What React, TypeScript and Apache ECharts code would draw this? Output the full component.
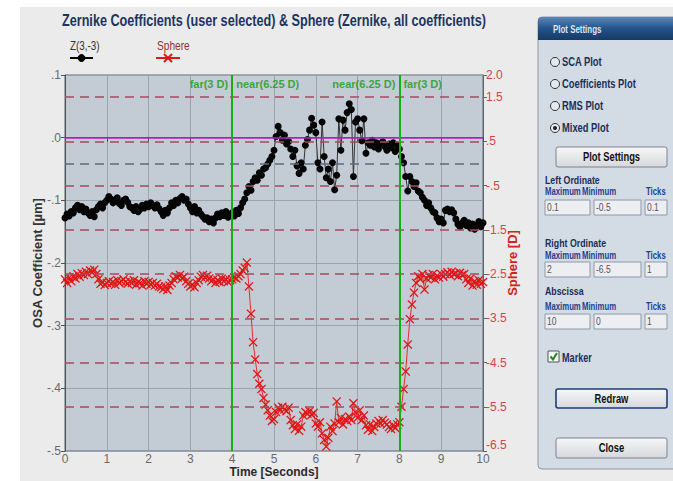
import React, { useEffect, useRef } from "react";
import * as echarts from "echarts";

// Sampling step of both recordings, in seconds
const DT = 0.05;

// Z(3,-3) OSA coefficient [µm], one value per DT from t = 0 to t = 10 s
const zernikeZ3m3 = [
  -0.128, -0.122, -0.125, -0.118, -0.12,
  -0.112, -0.108, -0.115, -0.11, -0.118, -0.114,
  -0.12, -0.124, -0.118, -0.126, -0.115,
  -0.11, -0.106, -0.112, -0.104, -0.1,
  -0.094, -0.098, -0.104, -0.1, -0.096, -0.105, -0.108, -0.1, -0.098, -0.103, -0.11,
  -0.112, -0.116, -0.11, -0.118, -0.114, -0.108, -0.112, -0.106,
  -0.11, -0.104, -0.108, -0.112, -0.107, -0.113,
  -0.118, -0.124, -0.116, -0.12, -0.112, -0.104,
  -0.108, -0.1, -0.104, -0.097, -0.094, -0.1, -0.098, -0.106,
  -0.112, -0.118, -0.11, -0.12, -0.116, -0.122,
  -0.126, -0.13, -0.128, -0.134, -0.13, -0.136, -0.128,
  -0.122, -0.126, -0.12, -0.124, -0.118, -0.127, -0.124,
  -0.12, -0.125, -0.116, -0.121, -0.112, -0.104,
  -0.098, -0.088, -0.078, -0.084, -0.07, -0.064,
  -0.068, -0.056, -0.06, -0.05, -0.048, -0.042, -0.036, -0.03,
  -0.02, 0.002, 0.018, 0.008, -0.004,
  0.004, -0.01, -0.006, -0.018, -0.03, -0.02,
  -0.045, -0.057, -0.04, -0.05, -0.012, -0.003,
  0.012, 0.031, 0.02, 0.008,
  -0.04, -0.05, 0.025, -0.03, -0.064,
  -0.05, -0.07, -0.04, -0.083, -0.06,
  0.03, -0.02, 0.028, 0.012,
  0.04, 0.054, 0.045, -0.062, 0.025,
  0.03, 0.012, -0.005, 0.03,
  -0.025, -0.008, -0.012, -0.004, -0.015, -0.008, -0.018, -0.01, -0.006, -0.014, -0.02, -0.01, -0.016, -0.008, -0.022, -0.012, -0.018,
  -0.03, -0.04, -0.062, -0.085,
  -0.062, -0.07, -0.078, -0.072, -0.085, -0.088,
  -0.095, -0.1, -0.108, -0.104, -0.112, -0.118, -0.12,
  -0.128, -0.134, -0.13, -0.136,
  -0.116, -0.114, -0.118, -0.115, -0.12,
  -0.13, -0.138, -0.142, -0.136,
  -0.132, -0.14, -0.136, -0.144, -0.138, -0.146, -0.14, -0.134, -0.142, -0.136,
];

// Sphere [D], one value per DT from t = 0 to t = 10 s
const sphereD = [
  -2.62, -2.7, -2.58, -2.66, -2.55, -2.6,
  -2.5, -2.56, -2.48, -2.52, -2.45, -2.5, -2.42, -2.46, -2.4, -2.5,
  -2.62, -2.72, -2.68, -2.75, -2.7, -2.66, -2.72, -2.68, -2.74, -2.64, -2.7, -2.66, -2.62, -2.68,
  -2.72, -2.66, -2.7, -2.64, -2.74, -2.68, -2.7, -2.76, -2.66, -2.72, -2.68, -2.74, -2.7, -2.76, -2.72, -2.78,
  -2.8, -2.84, -2.78, -2.86, -2.76, -2.7,
  -2.62, -2.55, -2.58, -2.52, -2.6, -2.56, -2.66,
  -2.72, -2.78, -2.74, -2.8, -2.7, -2.64,
  -2.56, -2.52, -2.58, -2.54, -2.6,
  -2.66, -2.62, -2.7, -2.64, -2.68, -2.6, -2.66, -2.62, -2.68, -2.64,
  -2.62, -2.58, -2.6, -2.55, -2.5,
  -2.42, -2.36, -2.24,
  -2.78, -3.4, -4.04, -4.43, -4.76, -4.98, -5.1, -5.3, -5.45, -5.58, -5.7, -5.82, -5.78,
  -5.62, -5.52, -5.58, -5.5, -5.56, -5.6, -5.52,
  -5.8, -5.92, -6.0, -5.9, -6.04, -5.95,
  -5.7, -5.62, -5.66, -5.6, -5.68, -5.64,
  -5.88, -5.95, -5.85,
  -6.1, -6.25, -6.4, -6.2,
  -5.95, -6.05, -5.88,
  -5.38,
  -5.85, -5.75, -5.9, -5.78, -5.82, -5.72, -5.8,
  -5.42,
  -5.62, -5.75, -5.58, -5.8, -5.7,
  -5.92, -6.02, -5.9, -6.05, -5.96, -5.88,
  -5.82, -5.88, -5.8, -5.86, -5.9,
  -5.96, -6.0, -5.92, -5.98, -5.9, -5.85,
  -5.5, -5.1, -4.7, -4.09, -3.52, -3.19, -2.92, -2.7,
  -2.55, -2.62, -2.5, -2.85,
  -2.6, -2.52, -2.58, -2.5, -2.62, -2.54, -2.58, -2.5, -2.56,
  -2.5, -2.46, -2.52, -2.45, -2.5, -2.48, -2.55, -2.47, -2.52, -2.5,
  -2.62, -2.7, -2.6, -2.76, -2.66, -2.74, -2.64, -2.72, -2.68,
];

// Axis ticks and their printed labels
const leftTickValues = [0.1, 0, -0.1, -0.2, -0.3, -0.4, -0.5];
const leftTickLabels = [".1", ".0", "-.1", "-.2", "-.3", "-.4", "-.5"];
const rightTickValues = [-6.5, -5.5, -4.5, -3.5, -2.5, -1.5, -0.5, 0.5, 1.5, 2];
const rightTickLabels = ["-6.5", "-5.5", "-4.5", "-3.5", "-2.5", "-1.5", "-.5", ".5", "1.5", "2.0"];
// Dashed guide levels on the sphere scale
const sphereGuides = [1.5, 0.5, -0.5, -1.5, -2.5, -3.5, -4.5, -5.5];

// Fixation target switches
const phaseSwitches = [
  { t: 4, before: "far(3 D)", after: "near(6.25 D)" },
  { t: 8, before: "near(6.25 D)", after: "far(3 D)" },
];

const chartTitle = "Zernike Coefficients (user selected) & Sphere (Zernike, all coefficients)";

// Plot settings panel contents
const plotModes = ["SCA Plot", "Coefficients Plot", "RMS Plot", "Mixed Plot"];
const selectedMode = "Mixed Plot";
const fieldHeaders = ["Maximum", "Minimum", "Ticks"];
const ordinateSettings = [
  { title: "Left Ordinate", values: ["0.1", "-0.5", "0.1"] },
  { title: "Right Ordinate", values: ["2", "-6.5", "1"] },
  { title: "Abscissa", values: ["10", "0", "1"] },
];

const FONT = "'Liberation Sans', Arial, sans-serif";
const NAVY = "#1b2f57";
const BLUE_HDR = "#1f3f8f";

const lookupLabel = (values: number[], labels: string[]) => (v: number) => {
  const i = values.findIndex((x) => Math.abs(x - v) < 1e-6);
  return i >= 0 ? labels[i] : "";
};

const crossPath =
  "path://M0,1 L1,0 L5,4 L9,0 L10,1 L6,5 L10,9 L9,10 L5,6 L1,10 L0,9 L4,5 Z";

// Horizontally condensed text element
function ntext(
  x: number,
  y: number,
  text: string,
  font: string,
  fill: string,
  sx = 0.8,
  align: string = "left"
) {
  return {
    type: "text",
    x,
    y,
    scaleX: sx,
    style: { text, fill, font, verticalAlign: "middle", align },
  };
}

function buildPanel(): any[] {
  const els: any[] = [];
  const px = 538;
  els.push({
    type: "rect",
    shape: { x: px, y: 17, width: 140, height: 452, r: 4 },
    style: { fill: "#d3dbe5", stroke: "#8a98ab", lineWidth: 1 },
  });
  els.push({
    type: "rect",
    shape: { x: px, y: 17, width: 140, height: 23, r: [4, 0, 0, 0] },
    style: {
      fill: new echarts.graphic.LinearGradient(0, 0, 0, 1, [
        { offset: 0, color: "#5b87b8" },
        { offset: 0.5, color: "#24528a" },
        { offset: 1, color: "#163a66" },
      ]),
    },
  });
  els.push(ntext(553, 29, "Plot Settings", `bold 11px ${FONT}`, "#dfe7f1", 0.72));

  plotModes.forEach((m, i) => {
    const cy = 62 + i * 22;
    els.push({
      type: "circle",
      shape: { cx: 555, cy, r: 4.5 },
      style: { fill: "#e4e9ef", stroke: "#333", lineWidth: 1 },
    });
    if (m === selectedMode) {
      els.push({ type: "circle", shape: { cx: 555, cy, r: 2 }, style: { fill: "#222" } });
    }
    els.push(ntext(562, cy, m, `bold 12px ${FONT}`, NAVY, 0.78));
  });

  const button = (y: number, h: number, label: string, strong: boolean) => {
    els.push({
      type: "rect",
      shape: { x: 556, y, width: 111, height: h, r: 2 },
      style: {
        fill: new echarts.graphic.LinearGradient(0, 0, 0, 1, [
          { offset: 0, color: "#f7f7f7" },
          { offset: 1, color: "#d6d8dc" },
        ]),
        stroke: strong ? "#1c3f7a" : "#7d838c",
        lineWidth: strong ? 1.6 : 1,
      },
    });
    els.push(ntext(611.5, y + h / 2, label, `bold 12px ${FONT}`, "#111", 0.78, "center"));
  };
  button(147, 20, "Plot Settings", false);

  const sectionY = [180, 243, 291];
  const headerY = [192, 256, 307];
  const boxY = [200, 262, 314];
  const colX = [545, 594, 645];
  const colW = [45, 47, 22];
  const hdrX = [545, 582, 646];
  ordinateSettings.forEach((s, k) => {
    els.push(ntext(545, sectionY[k], s.title, `bold 11px ${FONT}`, NAVY, 0.8));
    fieldHeaders.forEach((h, j) => {
      els.push(ntext(hdrX[j], headerY[k], h, `bold 10.5px ${FONT}`, BLUE_HDR, 0.74));
      els.push({
        type: "rect",
        shape: { x: colX[j], y: boxY[k], width: colW[j], height: 15 },
        style: { fill: "#eceef1", stroke: "#8e98a6", lineWidth: 1 },
      });
      els.push(ntext(colX[j] + 2, boxY[k] + 7.5, s.values[j], `10px ${FONT}`, "#555", 0.85));
    });
  });

  // Marker checkbox
  els.push({
    type: "rect",
    shape: { x: 548, y: 351, width: 11, height: 11 },
    style: { fill: "#f4f6f4", stroke: "#555", lineWidth: 1 },
  });
  els.push({
    type: "polyline",
    shape: { points: [[550.5, 356.5], [553, 359.5], [557, 353]] },
    style: { stroke: "#1c8a1c", lineWidth: 2, fill: null },
  });
  els.push(ntext(562, 357, "Marker", `bold 12px ${FONT}`, NAVY, 0.76));

  button(389, 19, "Redraw", true);
  button(438, 20, "Close", false);
  return els;
}

function buildHeader(): any[] {
  return [
    ntext(62, 20, chartTitle, `bold 16px ${FONT}`, "#1e355e", 0.79),
    ntext(70, 45, "Z(3,-3)", `13px ${FONT}`, "#333", 0.76),
    { type: "line", shape: { x1: 70, y1: 58, x2: 93, y2: 58 }, style: { stroke: "#000", lineWidth: 2 } },
    { type: "circle", z: 10, shape: { cx: 81.5, cy: 58, r: 3.5 }, style: { fill: "#000", stroke: "#000", lineWidth: 1 } },
    ntext(157, 45, "Sphere", `13px ${FONT}`, "#8c3434", 0.78),
    { type: "line", shape: { x1: 156, y1: 58, x2: 180, y2: 58 }, style: { stroke: "#e01818", lineWidth: 2 } },
    { type: "line", shape: { x1: 164, y1: 54, x2: 172, y2: 62 }, style: { stroke: "#e01818", lineWidth: 2 } },
    { type: "line", shape: { x1: 164, y1: 62, x2: 172, y2: 54 }, style: { stroke: "#e01818", lineWidth: 2 } },
  ];
}

export default function App() {
  const ref = useRef<HTMLDivElement>(null);

  useEffect(() => {
    if (!ref.current) return;
    const chart = echarts.init(ref.current, undefined, { renderer: "svg" });

    const zData = zernikeZ3m3.map((v, i) => [+(i * DT).toFixed(2), v]);
    const sData = sphereD.map((v, i) => [+(i * DT).toFixed(2), v]);

    const option: any = {
      animation: false,
      backgroundColor: "transparent",
      grid: {
        left: 65,
        right: 190,
        top: 75,
        bottom: 30,
        outerBoundsMode: "none",
        containLabel: false,
        show: true,
        backgroundColor: "#c3cbd5",
        borderColor: "#5e6670",
        borderWidth: 1,
      },
      xAxis: {
        type: "value",
        min: 0,
        max: 10,
        interval: 1,
        name: "Time [Seconds]",
        nameLocation: "middle",
        nameGap: 15,
        nameMoveOverlap: false,
        nameTextStyle: { color: "#2a2a2a", fontWeight: "bold", fontSize: 12, fontFamily: FONT },
        axisLine: { lineStyle: { color: "#4c525a" } },
        axisTick: { length: 4, lineStyle: { color: "#4c525a" } },
        axisLabel: { color: "#6a6a6a", fontSize: 12, fontFamily: FONT, margin: 2 },
        splitLine: { show: true, lineStyle: { color: "#9aa3ae", width: 1 } },
      },
      yAxis: [
        {
          type: "value",
          min: -0.5,
          max: 0.1,
          interval: 0.1,
          name: "OSA Coefficient [µm]",
          nameLocation: "middle",
          nameGap: 21,
          nameMoveOverlap: false,
          nameTextStyle: { color: "#333", fontWeight: "bold", fontSize: 13, fontFamily: FONT },
          axisLine: { show: true, lineStyle: { color: "#4c525a" } },
          axisTick: { show: true, length: 4, lineStyle: { color: "#4c525a" } },
          axisLabel: {
            color: "#6a6a6a",
            fontSize: 12,
            fontFamily: FONT,
            margin: 4,
            formatter: lookupLabel(leftTickValues, leftTickLabels),
          },
          splitLine: { show: true, lineStyle: { color: "#9aa3ae", width: 1 } },
        },
        {
          type: "value",
          min: -6.5,
          max: 2,
          position: "right",
          name: "Sphere [D]",
          nameLocation: "middle",
          nameGap: 23,
          nameRotate: 90,
          nameMoveOverlap: false,
          nameTextStyle: { color: "#d42020", fontWeight: "bold", fontSize: 13, fontFamily: FONT },
          axisLine: { show: true, lineStyle: { color: "#5e6670" } },
          axisTick: { show: true, length: 4, customValues: rightTickValues, lineStyle: { color: "#5e6670" } },
          axisLabel: {
            color: "#d04848",
            fontSize: 12,
            fontFamily: FONT,
            margin: 3,
            verticalAlignMinLabel: "bottom",
            customValues: rightTickValues,
            formatter: lookupLabel(rightTickValues, rightTickLabels),
          },
          splitLine: { show: false },
        },
      ],
      graphic: [...buildHeader(), ...buildPanel()],
      series: [
        {
          name: "guides",
          type: "line",
          yAxisIndex: 1,
          data: [],
          silent: true,
          z: 1,
          markLine: {
            silent: true,
            symbol: ["none", "none"],
            label: { show: false },
            data: [
              ...sphereGuides.map((v) => ({
                yAxis: v,
                lineStyle: { color: "#a84a5c", width: 1.5, type: [9, 6] },
              })),
              { yAxis: 0, lineStyle: { color: "#5d6a80", width: 1.5, type: [9, 6] } },
            ],
          },
        },
        {
          name: "switches",
          type: "line",
          yAxisIndex: 0,
          data: [],
          silent: true,
          z: 1,
          markLine: {
            silent: true,
            symbol: ["none", "none"],
            label: { show: false },
            data: [
              { yAxis: 0, lineStyle: { color: "#b51fd0", width: 1.5, type: "solid" } },
              ...phaseSwitches.map((p) => ({
                xAxis: p.t,
                lineStyle: { color: "#12b012", width: 2, type: "solid" },
              })),
            ],
          },
        },
        {
          name: "Sphere",
          type: "line",
          yAxisIndex: 1,
          data: sData,
          z: 2,
          symbol: crossPath,
          symbolSize: 9,
          showAllSymbol: true,
          itemStyle: { color: "#e41414" },
          lineStyle: { color: "#e23030", width: 1 },
        },
        {
          name: "Z(3,-3)",
          type: "line",
          yAxisIndex: 0,
          data: zData,
          z: 3,
          symbol: "circle",
          symbolSize: 7,
          showAllSymbol: true,
          itemStyle: { color: "#050505" },
          lineStyle: { color: "#333", width: 1 },
        },
        {
          name: "phase labels",
          type: "scatter",
          yAxisIndex: 0,
          symbolSize: 0.1,
          silent: true,
          z: 4,
          itemStyle: { color: "transparent" },
          label: { show: true, color: "#139a13", fontWeight: "bold", fontSize: 11, fontFamily: FONT },
          data: phaseSwitches.flatMap((p) => [
            { value: [p.t, 0.1], label: { formatter: p.before, position: "left", distance: 4, offset: [0, 9] } },
            { value: [p.t, 0.1], label: { formatter: p.after, position: "right", distance: 4, offset: [0, 9] } },
          ]),
        },
      ],
    };

    chart.setOption(option);
    return () => chart.dispose();
  }, []);

  return (
    <div style={{ position: "fixed", left: 0, top: 0, width: 673, height: 481, background: "#ffffff", overflow: "hidden" }}>
      <div style={{ position: "absolute", left: 20, top: 7, right: 0, bottom: 0, background: "#ebebeb" }} />
      <div ref={ref} style={{ position: "absolute", left: 0, top: 0, width: 673, height: 481 }} />
    </div>
  );
}
